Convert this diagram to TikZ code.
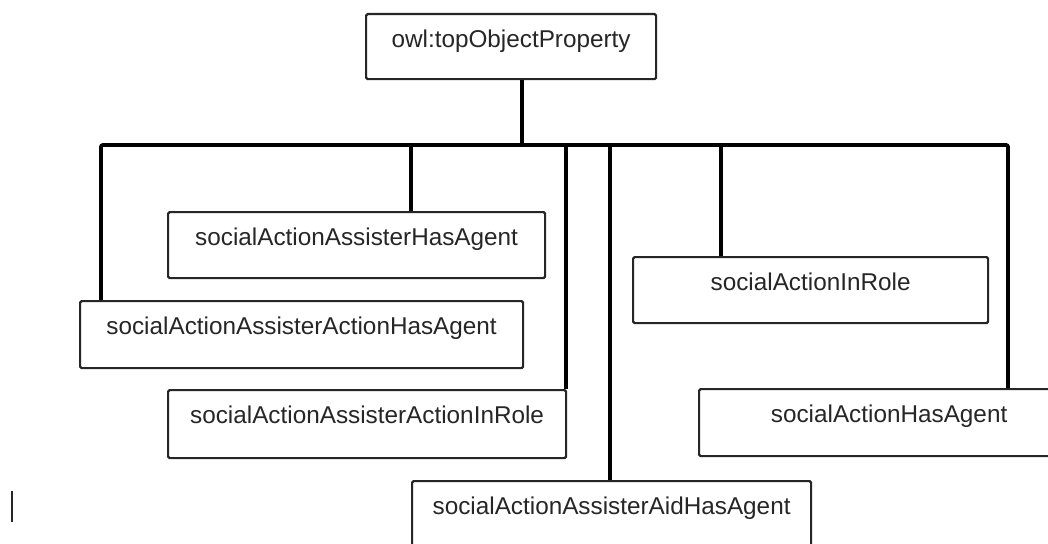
\documentclass[tikz,border=0pt]{standalone}
\usepackage{fontspec}
\setmainfont{Liberation Sans}
\begin{document}
\begin{tikzpicture}[x=1pt,y=-1pt,
  box/.style={draw=black!85, line width=2.2pt, rounded corners=1.5pt, fill=white,
    anchor=north west, inner xsep=0pt, inner ysep=0pt,
    text height=33.5pt, font=\fontsize{24.3}{28}\selectfont, text=black!85},
  conn/.style={draw=black, line width=3.8pt, rounded corners=2pt}]
\useasboundingbox (0,0) rectangle (1048,543);
% nodes
\node[box, minimum width=290pt, minimum height=65pt, text depth=31.5pt] (top) at (365,13) {owl:topObjectProperty};
\node[box, minimum width=377pt, minimum height=66pt, text depth=32.5pt] (A) at (167,211) {socialActionAssisterHasAgent};
\node[box, minimum width=443pt, minimum height=67pt, text depth=33.5pt] (B) at (79,300) {socialActionAssisterActionHasAgent};
\node[box, minimum width=398pt, minimum height=68pt, text depth=34.5pt] (C) at (167,389) {socialActionAssisterActionInRole};
\node[box, minimum width=399pt, minimum height=80pt, text depth=46.5pt] (D) at (411,480) {socialActionAssisterAidHasAgent};
\node[box, minimum width=355pt, minimum height=66pt, text depth=32.5pt] (E) at (632,256) {socialActionInRole};
\node[box, minimum width=380pt, minimum height=67pt, text depth=33.5pt] (F) at (698,388) {socialActionHasAgent};
% junctions on the bus
\coordinate (jT) at (522,145);
\coordinate (jB) at (101,145);
\coordinate (jA) at (411,145);
\coordinate (jC) at (566,145);
\coordinate (jD) at (610,145);
\coordinate (jE) at (721,145);
\coordinate (jF) at (1008,145);
% connectors
\draw[conn] (top.south -| jT) -- (jT);
\draw[conn] (jB |- B.north) -- (jB) -- (jF) -- (jF |- F.north);
\draw[conn] (jA) -- (jA |- A.north);
\draw[conn] (jC) -- (jC |- C.north);
\draw[conn] (jD) -- (jD |- D.north);
\draw[conn] (jE) -- (jE |- E.north);
% stray cursor mark
\coordinate (m1) at (12,491);
\coordinate (m2) at (12,522);
\draw[line width=2.5pt, black!85] (m1) -- (m2);
\end{tikzpicture}
\end{document}
